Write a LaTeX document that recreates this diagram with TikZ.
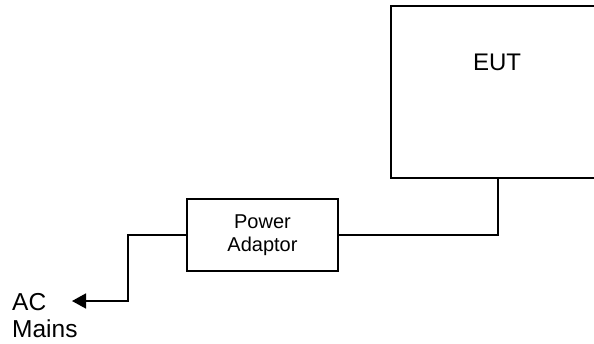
\documentclass[tikz,border=0pt]{standalone}
\usepackage{fontspec}
\setmainfont{Liberation Sans}
\usetikzlibrary{arrows.meta}
\tikzset{box/.style = {shape = rectangle, draw, line width = 1.6pt, inner sep = 0pt}}
\tikzset{wire/.style = {line width = 1.6pt}}
\tikzset{feed/.style = {wire, -{Triangle[length = 14pt, width = 15pt]}}}

\begin{document}
\begin{tikzpicture}[x = 1pt, y = -1pt]
			\useasboundingbox (0, 0) rectangle (594, 343);
			\node[box, minimum width = 214pt, minimum height = 172pt, anchor = north west] (eut) at (390, 5) {};
			\node[font = \fontsize{24}{27}\selectfont] (eutlabel) at (497, 62) {EUT};
			\node[box, minimum width = 151pt, minimum height = 72pt, align = center,
				font = \fontsize{20}{23.5}\selectfont] (adaptor) at (262.5, 235) {Power\\Adaptor};
			\node[inner sep = 0pt, anchor = north west, align = left,
				font = \fontsize{24.5}{27}\selectfont] (mains) at (12, 293) {AC\\Mains};
			\coordinate (plug) at (72, 301);

			\draw[wire] (eut.south) |- (adaptor.east);
			\draw[feed] (adaptor.west) -- ++(-58, 0) |- (plug);
		\end{tikzpicture}
\end{document}
